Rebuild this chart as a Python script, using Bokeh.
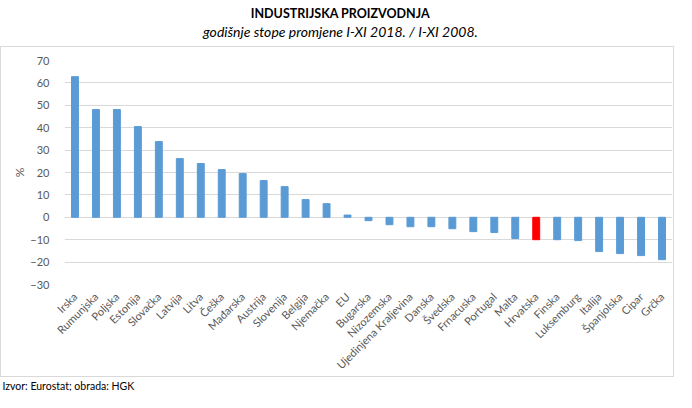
from math import pi
from bokeh.plotting import figure
from bokeh.layouts import column
from bokeh.models import FactorRange, Range1d, ColumnDataSource, FixedTicker, Title
from bokeh.core.properties import value
from bokeh.embed import file_html
from bokeh.resources import INLINE

countries = ["Irska", "Rumunjska", "Poljska", "Estonija", "Slovačka", "Latvija", "Litva",
             "Češka", "Mađarska", "Austrija", "Slovenija", "Belgija", "Njemačka", "EU",
             "Bugarska", "Nizozemska", "Ujedinjena Kraljevina", "Danska", "Švedska",
             "Frnacuska", "Portugal", "Malta", "Hrvatska", "Finska", "Luksemburg",
             "Italija", "Španjolska", "Cipar", "Grčka"]
values = [62.8, 48.1, 48.1, 40.5, 33.8, 26.2, 24.0, 21.3, 19.5, 16.4, 13.7, 7.9, 6.1, 1.0,
          -1.5, -3.3, -4.2, -4.2, -5.1, -6.4, -6.8, -9.5, -10.0, -10.0, -10.4,
          -15.3, -16.2, -17.1, -18.9]
highlight = "Hrvatska"
y_ticks = [-30, -20, -10, 0, 10, 20, 30, 40, 50, 60, 70]

title_text = "INDUSTRIJSKA PROIZVODNJA"
subtitle_text = "godišnje stope promjene I-XI 2018. / I-XI 2008."
source_text = "Izvor: Eurostat; obrada: HGK"

colors = ["#ff0000" if c == highlight else "#5b9bd5" for c in countries]
src = ColumnDataSource(dict(x=countries, top=values, color=colors))

FONT = "Lato"
GREY = "#595959"
W = 676

# ---- header (title + subtitle); its frame is aligned with the chart frame ----
hdr = figure(width=W, height=46, x_range=Range1d(64, 672), y_range=Range1d(46, 0),
             output_backend="svg", toolbar_location=None, min_border=0,
             x_axis_type=None, y_axis_type=None)
hdr.outline_line_color = None
hdr.text(x=[340], y=[13], text=[title_text], text_font=value(FONT),
         text_font_style="bold", text_font_size="12.5px", text_color="#000000",
         text_align="center", text_baseline="middle")
hdr.text(x=[340], y=[31], text=[subtitle_text], text_font=value(FONT),
         text_font_style="italic", text_font_size="14px", text_color="#000000",
         text_align="center", text_baseline="middle")

# ---- chart body ----
body = figure(x_range=FactorRange(factors=countries), y_range=Range1d(-30, 70),
              width=W - 2, height=331, output_backend="svg", toolbar_location=None,
              min_border_left=63, min_border_right=3, min_border_top=13, min_border_bottom=94,
              styles={"border": "1px solid #d9d9d9"})
body.vbar(x="x", top="top", bottom=0, width=0.33, color="color", source=src)

body.outline_line_color = None
body.xgrid.visible = False
body.ygrid.grid_line_color = "#d9d9d9"
body.ygrid.grid_line_width = 1

body.yaxis.ticker = FixedTicker(ticks=y_ticks)
body.yaxis.axis_label = "%"
for ax in (body.xaxis[0], body.yaxis[0]):
    ax.axis_line_color = None
    ax.major_tick_line_color = None
    ax.minor_tick_line_color = None
    ax.major_label_text_font = FONT
    ax.major_label_text_font_size = "11px"
    ax.major_label_text_color = GREY
body.yaxis.axis_label_text_font = FONT
body.yaxis.axis_label_text_font_size = "12px"
body.yaxis.axis_label_text_font_style = "normal"
body.yaxis.axis_label_text_color = GREY
body.yaxis.axis_label_standoff = 0
body.yaxis.major_label_standoff = 9
body.xaxis.major_label_orientation = pi / 4
body.xaxis.major_label_standoff = 4

# ---- footer (source) ----
ftr = figure(width=W, height=14, x_range=Range1d(0, 1), y_range=Range1d(0, 1),
             output_backend="svg", toolbar_location=None, min_border=0,
             x_axis_type=None, y_axis_type=None)
ftr.outline_line_color = None
ftr.add_layout(Title(text=source_text, text_font=FONT, text_font_size="10.5px",
                     text_font_style="normal", text_color="#000000", align="left",
                     offset=-61, standoff=0), "above")

p = column(hdr, body, ftr, spacing=0)
open("out.html", "w").write(file_html(p, INLINE))
